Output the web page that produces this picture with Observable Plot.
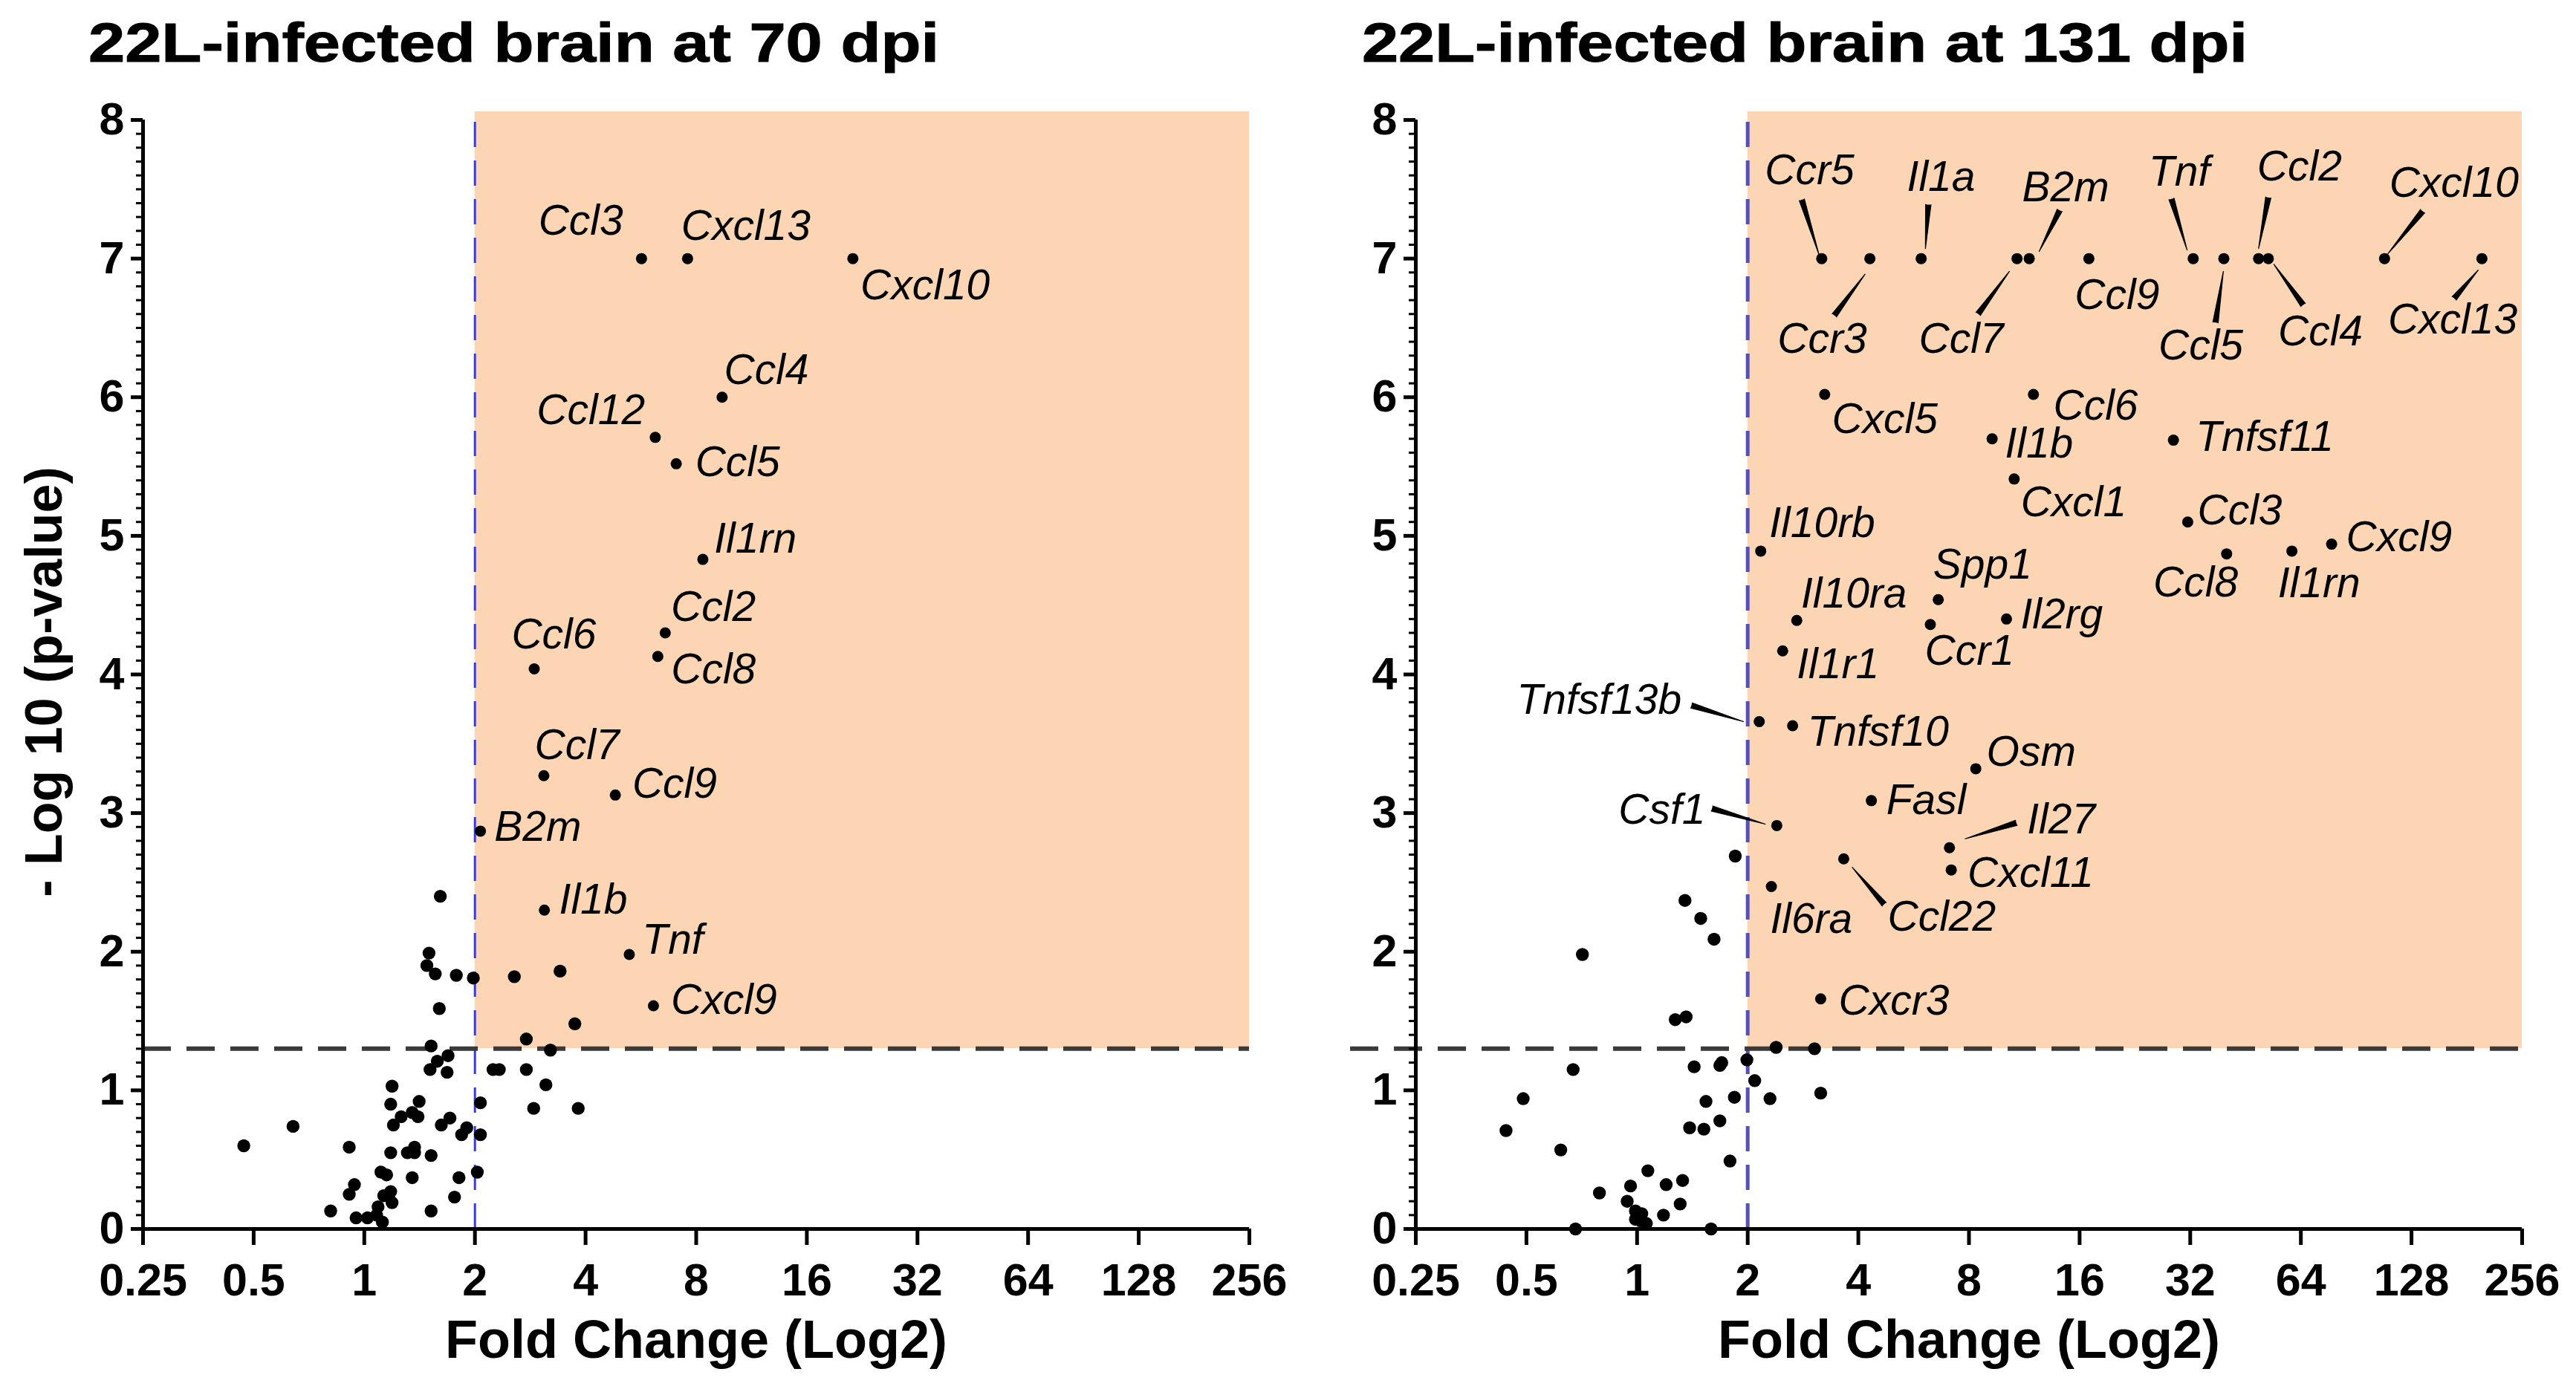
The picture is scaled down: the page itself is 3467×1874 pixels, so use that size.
<!DOCTYPE html>
<html>
<head>
<meta charset="utf-8">
<script src="https://cdn.jsdelivr.net/npm/d3@7"></script>
<script src="https://cdn.jsdelivr.net/npm/@observablehq/plot@0.6"></script>
<style>
  html, body { margin: 0; padding: 0; background: #fff; }
  body { width: 3467px; height: 1874px; overflow: hidden; position: relative;
         font-family: "Liberation Sans", Arial, Helvetica, sans-serif; }
  .panel { position: absolute; top: 100px; }
  .title { position: absolute; top: 21px; font-size: 74px; line-height: 1; font-weight: bold;
           white-space: nowrap; transform-origin: 0 0; color: #000;
           -webkit-text-stroke: 1px #000; }
</style>
</head>
<body>
<div id="t1" class="title" style="left:119px"></div>
<div id="t2" class="title" style="left:1833px"></div>
<div id="p1" class="panel" style="left:0px"></div>
<div id="p2" class="panel" style="left:1734px"></div>
<script>
// ---------- shared axis definitions ----------
const foldTicks = [0.25, 0.5, 1, 2, 4, 8, 16, 32, 64, 128, 256];
const foldTickLabels = ["0.25", "0.5", "1", "2", "4", "8", "16", "32", "64", "128", "256"];
const pTicks = [0, 1, 2, 3, 4, 5, 6, 7, 8];
const foldCutoff = 2;
const pCutoff = 1.301;          // -log10(0.05)
const shadeTop = 8.06;
const titles = ["22L-infected brain at 70 dpi", "22L-infected brain at 131 dpi"];
const xLabel = "Fold Change (Log2)";
const yLabel = "- Log 10 (p-value)";

// ---------- 70 dpi: labelled genes ----------
const genes70 = ["Ccl3","Cxcl13","Cxcl10","Ccl4","Ccl12","Ccl5","Il1rn","Ccl2","Ccl8","Ccl6","Ccl7","Ccl9","B2m","Il1b","Tnf","Cxcl9"];
const fc70    = [5.68, 7.58, 21.35, 9.41, 6.19, 7.06, 8.34, 6.59, 6.29, 2.90, 3.08, 4.82, 2.07, 3.09, 5.26, 6.12];
const nlp70   = [7.00, 7.00, 7.00, 6.00, 5.71, 5.52, 4.83, 4.30, 4.13, 4.04, 3.27, 3.13, 2.87, 2.30, 1.98, 1.61];
// ---------- 70 dpi: other genes ----------
const bgFc70 = [1.61,1.50,1.48,1.56,1.78,1.98,2.56,3.41,1.60,3.74,
                2.76,1.52,3.21,1.69,1.58,1.51,1.68,2.24,2.33,2.76,
                1.19,3.12,1.18,1.41,2.07,1.26,1.35,1.40,1.20,1.62,
                1.71,1.90,1.84,2.07,2.89,3.82,0.64,0.47,0.91,1.18,
                1.31,1.37,1.37,1.52,1.11,1.15,1.35,1.81,2.03,0.94,
                0.91,1.18,1.13,1.19,1.76,0.81,0.95,1.02,1.09,1.08,
                1.12,1.52];
const bgNlp70 = [2.40,1.99,1.90,1.84,1.83,1.81,1.82,1.86,1.59,1.48,
                 1.37,1.32,1.29,1.25,1.21,1.15,1.13,1.15,1.15,1.15,
                 1.03,1.04,0.90,0.92,0.91,0.81,0.84,0.81,0.75,0.75,
                 0.80,0.73,0.68,0.68,0.87,0.87,0.74,0.60,0.59,0.55,
                 0.55,0.59,0.55,0.53,0.41,0.39,0.37,0.37,0.41,0.32,
                 0.25,0.27,0.24,0.19,0.23,0.13,0.08,0.08,0.16,0.10,
                 0.05,0.13];

// ---------- 131 dpi: labelled genes ----------
const genes131 = ["Ccr5","Ccr3","Il1a","Ccl7","B2m","Ccl9","Tnf","Ccl5","Ccl2","Ccl4","Cxcl10","Cxcl13",
                  "Cxcl5","Ccl6","Il1b","Tnfsf11","Cxcl1","Ccl3","Il10rb","Ccl8","Il1rn","Cxcl9",
                  "Spp1","Il10ra","Ccr1","Il2rg","Il1r1","Tnfsf13b","Tnfsf10","Osm","Fasl","Csf1",
                  "Il27","Cxcl11","Ccl22","Il6ra","Cxcr3"];
const fc131  = [3.18, 4.30, 5.93, 10.81, 11.67, 16.96, 32.6, 39.5, 49.1, 52.2, 108.1, 199,
                3.24, 11.98, 9.25, 28.8, 10.62, 31.5, 2.17, 40.2, 60.5, 77.6,
                6.60, 2.72, 6.28, 10.12, 2.49, 2.15, 2.65, 8.35, 4.34, 2.40,
                7.08, 7.16, 3.65, 2.32, 3.16];
const nlp131 = [7, 7, 7, 7, 7, 7, 7, 7, 7, 7, 7, 7,
                6.02, 6.02, 5.70, 5.69, 5.41, 5.10, 4.89, 4.87, 4.89, 4.94,
                4.54, 4.39, 4.36, 4.40, 4.17, 3.66, 3.63, 3.32, 3.09, 2.91,
                2.75, 2.59, 2.67, 2.47, 1.66];
// ---------- 131 dpi: other genes ----------
const bgFc131 = [1.85,1.35,1.49,1.62,0.71,1.27,1.36,2.39,3.04,1.99,
                 0.67,1.43,1.68,1.70,2.09,0.49,1.54,1.84,2.30,3.16,
                 0.44,1.39,1.52,1.68,0.62,1.79,1.07,0.79,0.96,1.20,
                 1.33,0.94,1.31,0.99,1.03,1.18,0.99,1.06,1.02,0.68,
                 1.59];
const bgNlp131 = [2.69,2.37,2.24,2.09,1.98,1.51,1.53,1.31,1.30,1.22,
                  1.15,1.17,1.18,1.20,1.07,0.94,0.92,0.95,0.94,0.98,
                  0.71,0.73,0.72,0.78,0.57,0.49,0.42,0.26,0.31,0.32,
                  0.35,0.20,0.18,0.13,0.11,0.10,0.07,0.04,0.06,0.00,
                  0.00];

// ---------- label layout (pixel offsets from the dot: dx, dy, anchor) ----------
const layout70 = {
  Ccl3: [-138.8, -50.5, "start"], Cxcl13: [-8.7, -43.4, "start"], Cxcl10: [10.2, 36.7, "start"],
  Ccl4: [2.6, -36.2, "start"], Ccl12: [-13.8, -35.7, "end"], Ccl5: [25.5, -2, "start"],
  Il1rn: [15.3, -27, "start"], Ccl2: [7.7, -34.7, "start"], Ccl8: [17.9, 18.4, "start"],
  Ccl6: [-30.6, -45.4, "start"], Ccl7: [-12.4, -40.9, "start"], Ccl9: [22.8, -14.3, "start"],
  B2m: [18.7, -5.3, "start"], Il1b: [19.9, -13.3, "start"], Tnf: [17.4, -19.6, "start"],
  Cxcl9: [23.6, -7.7, "start"]
};
const layout131 = {
  Ccr5: [-76.5, -118.3, "start"], Ccr3: [-124.4, 109, "start"], Il1a: [-19.1, -109.8, "start"],
  Ccl7: [-132.1, 109, "start"], B2m: [-9.6, -95.7, "start"], Ccl9: [-19.1, 49.8, "start"],
  Tnf: [-59.9, -116, "start"], Ccl5: [-88, 117.5, "start"], Ccl2: [-1.9, -123.6, "start"],
  Ccl4: [13.1, 98.4, "start"], Cxcl10: [6.4, -101, "start"], Cxcl13: [-126.5, 83, "start"],
  Cxcl5: [9.6, 33.3, "start"], Ccl6: [26.8, 15.3, "start"], Il1b: [17.2, 6.9, "start"],
  Tnfsf11: [30, -3.8, "start"], Cxcl1: [8.8, 31.8, "start"], Ccl3: [13.1, -15.3, "start"],
  Il10rb: [11.5, -36.7, "start"], Ccl8: [-98.7, 39.2, "start"], Il1rn: [-18.9, 44, "start"],
  Cxcl9: [19.5, -8.8, "start"], Spp1: [-6.9, -46.9, "start"], Il10ra: [5.7, -35.4, "start"],
  Ccr1: [-7.5, 35.9, "start"], Il2rg: [18.9, -5.3, "start"], Il1r1: [19, 18.7, "start"],
  Tnfsf13b: [-104.5, -28.7, "end"], Tnfsf10: [20.1, 8.6, "start"], Osm: [14.4, -22.5, "start"],
  Fasl: [20.1, 0, "start"], Csf1: [-95.9, -20.3, "end"], Il27: [104.5, -37.3, "start"],
  Cxcl11: [21.8, 4.3, "start"], Ccl22: [59.1, 78.5, "start"], Il6ra: [-1.7, 44, "start"],
  Cxcr3: [24.1, 2.7, "start"]
};
// leader lines: [baseX, baseY, tipX, tipY] pixel offsets from the dot
const leaders131 = {
  Ccr5: [-26.8, -79.2, -3.8, -5.7], Ccr3: [-47.8, 76.5, -6.5, 21], Il1a: [9.6, -72.7, 5.7, -13.4],
  Ccl7: [-52.4, 74.6, -10.3, 17.2], B2m: [41, -65, 13.4, -9.6], Tnf: [-29.2, -80.4, -8.2, -11.5],
  Ccl5: [-11.2, 86.1, -0.7, 17.2], Ccl2: [13.1, -82.3, 0, -13.4], Ccl4: [46.8, 62.4, 7.5, 7.7],
  Cxcl10: [51.3, -63.9, 4.5, -6.5], Cxcl13: [-37.4, 53.6, -4.9, 15.3],
  Tnfsf13b: [-91.3, -21.8, -21.2, 0], Csf1: [-87.3, -23, -15.5, -1.9],
  Il27: [90.1, -33.5, 21.2, -12], Ccl22: [54.5, 61.2, 11.5, 11.5]
};

function drawPanel(cfg) {
  const pts = cfg.genes.map((g, i) => ({gene: g, fc: cfg.fc[i], nlp: cfg.nlp[i]}));
  const bg = cfg.bgFc.map((f, i) => ({fc: f, nlp: cfg.bgNlp[i]}));
  const minor = d3.range(1, 80).filter(i => i % 10 !== 0).map(i => i / 10);

  const labelMarks = pts.map(d => {
    const [dx, dy, anchor] = cfg.layout[d.gene];
    return Plot.text([d], {x: "fc", y: "nlp", text: "gene", dx, dy, textAnchor: anchor,
      lineAnchor: "middle", fontStyle: "italic", fontWeight: "normal", fontSize: 57, fill: "#000"});
  });
  const leaderMarks = pts.filter(d => cfg.leaders[d.gene]).map(d => {
    const [bx, by, tx, ty] = cfg.leaders[d.gene];
    const vx = tx - bx, vy = ty - by;
    return Plot.vector([d], {x: "fc", y: "nlp", length: Math.hypot(vx, vy),
      rotate: Math.atan2(vx, -vy) * 180 / Math.PI, anchor: "end", shape: "spike", r: 3.6,
      dx: tx, dy: ty, fill: "#000", fillOpacity: 1, stroke: "#000", strokeWidth: 1.2});
  });

  const marks = [
    Plot.rect([0], {x1: foldCutoff, x2: foldTicks[foldTicks.length - 1], y1: pCutoff, y2: shadeTop, fill: "#FCD5B5"}),
    Plot.ruleX([foldCutoff], {y1: 0, y2: 8, stroke: cfg.vColor, strokeWidth: cfg.vWidth, strokeDasharray: "34,18"}),
    Plot.ruleY([pCutoff], {x1: cfg.hStart, x2: 256, stroke: "#3a3a3a", strokeWidth: 6, strokeDasharray: "38,21"}),
    Plot.ruleY([0], {x1: 0.25, x2: 256, stroke: "#000", strokeWidth: 5}),
    Plot.ruleX([0.25], {y1: 0, y2: 8, stroke: "#000", strokeWidth: 5}),
    Plot.axisX({ticks: foldTicks, tickFormat: d => foldTickLabels[foldTicks.indexOf(d)], tickSize: 22,
      tickPadding: 24, strokeWidth: 5, fontSize: 61, fontWeight: "bold", label: null}),
    Plot.axisY({ticks: minor, tickSize: 9, strokeWidth: 3, tickFormat: () => "", label: null}),
    Plot.axisY({ticks: pTicks, tickSize: 16, tickPadding: 9, strokeWidth: 5, fontSize: 61,
      fontWeight: "bold", label: null}),
    Plot.dot(bg, {x: "fc", y: "nlp", r: 8.7, fill: "#000"}),
    Plot.dot(pts, {x: "fc", y: "nlp", r: 7.5, fill: "#000"}),
    ...leaderMarks,
    ...labelMarks,
    Plot.text([xLabel], {frameAnchor: "bottom", textAnchor: "middle", dy: 150, lineAnchor: "middle",
      fontSize: 72, fontWeight: "bold", fill: "#000", ariaLabel: "xlabel"})
  ];
  if (cfg.showY) {
    marks.push(Plot.text([yLabel], {frameAnchor: "left", textAnchor: "middle", rotate: -90, dx: -132, dy: 10,
      lineAnchor: "middle", fontSize: 70, fontWeight: "bold", fill: "#000", ariaLabel: "ylabel"}));
  }

  const svg = Plot.plot({
    width: cfg.width, height: 1774,
    marginTop: 61, marginBottom: 220, marginLeft: cfg.marginLeft, marginRight: cfg.marginRight,
    x: {type: "log", base: 2, domain: [0.25, 256]},
    y: {domain: [0, 8]},
    style: {fontFamily: "'Liberation Sans', Arial, sans-serif", fontSize: "61px", fontWeight: "bold",
      background: "transparent", overflow: "visible", color: "#000"},
    marks
  });
  document.getElementById(cfg.host).appendChild(svg);

  // stretch axis titles to the width of the reference lettering
  svg.querySelectorAll('g[aria-label="xlabel"] text').forEach(t => {
    const w = t.getComputedTextLength();
    t.setAttribute("transform", (t.getAttribute("transform") || "") + ` scale(${689 / w},1)`);
  });
  svg.querySelectorAll('g[aria-label="ylabel"] text').forEach(t => {
    const w = t.getComputedTextLength();
    t.setAttribute("transform", (t.getAttribute("transform") || "") + ` scale(${575 / w},1)`);
  });
}

drawPanel({host: "p1", genes: genes70, fc: fc70, nlp: nlp70, bgFc: bgFc70, bgNlp: bgNlp70,
  layout: layout70, leaders: {}, width: 1734, marginLeft: 192, marginRight: 53,
  vColor: "#3c3cd2", vWidth: 3, hStart: 0.25, showY: true});
drawPanel({host: "p2", genes: genes131, fc: fc131, nlp: nlp131, bgFc: bgFc131, bgNlp: bgNlp131,
  layout: layout131, leaders: leaders131, width: 1733, marginLeft: 171, marginRight: 73,
  vColor: "#5552b0", vWidth: 5, hStart: 0.166, showY: false});

// titles (HTML above the plots), stretched to the reference width
[["t1", titles[0], 1145], ["t2", titles[1], 1192]].forEach(([id, txt, target]) => {
  const el = document.getElementById(id);
  el.textContent = txt;
  const w = el.getBoundingClientRect().width;
  el.style.transform = `scaleX(${target / w})`;
});
</script>
</body>
</html>
